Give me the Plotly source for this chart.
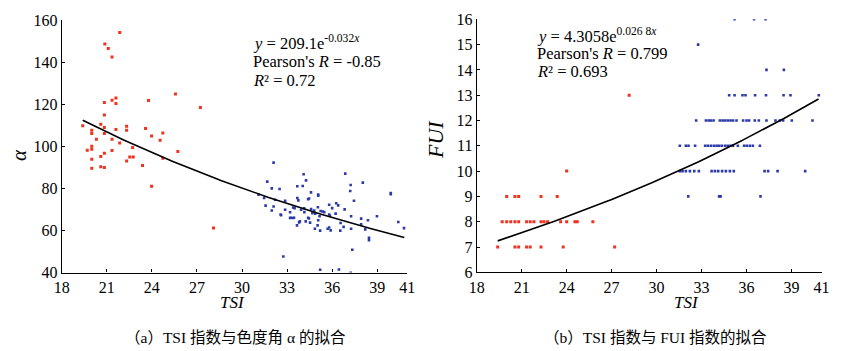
import numpy as np
import plotly.graph_objects as go

# ---------------- data: panel (a) TSI vs alpha ----------------
a_red_tsi = [21.86, 20.87, 21.1, 21.35, 25.57, 23.78, 21.61, 21.35, 21.61, 20.84, 27.23, 20.84,
             19.4, 20.6, 20.0, 20.0, 20.84, 20.84, 21.61, 22.32, 22.32, 23.58, 24.73, 23.98,
             24.55, 20.31, 21.35, 21.86, 20.0, 20.0, 19.7, 21.35, 20.84, 20.6, 22.72, 22.53,
             22.76, 22.32, 20.0, 25.73, 24.73, 23.38, 20.0, 20.6, 20.84, 23.98, 28.1]
a_red_alpha = [154.1, 148.6, 146.5, 142.4, 124.8, 121.8, 122.9, 121.9, 120.3, 120.8, 118.4, 114.8,
               109.7, 110.5, 107.6, 106.0, 108.9, 106.0, 108.0, 109.5, 107.6, 108.4, 106.3, 104.9,
               102.9, 103.3, 103.3, 101.6, 100.0, 98.6, 98.1, 98.0, 96.7, 95.1, 99.4, 94.9,
               94.9, 93.0, 93.8, 97.5, 94.3, 90.8, 89.5, 90.2, 89.9, 81.0, 61.1]

a_blue_tsi = [32.1, 31.68, 31.98, 32.5, 34.1, 34.26, 34.04, 33.68, 36.87, 37.23, 37.2, 38.04,
              34.59, 35.07, 35.07, 34.46, 34.4, 33.68, 33.75, 32.87, 32.2, 31.47, 31.1, 37.45,
              39.9, 39.9, 31.57, 32.1, 31.98, 32.57, 32.6, 33.4, 33.5, 33.2, 33.2, 33.4,
              38.98, 38.38, 40.4, 40.78, 37.93, 37.93, 38.2, 37.26, 37.26, 36.83, 36.76, 36.56,
              36.54, 36.27, 36.4, 36.23, 36.0, 35.8, 35.8, 35.85, 35.8, 35.7, 35.9, 35.36,
              35.47, 35.23, 35.16, 35.07, 35.05, 34.87, 34.8, 34.6, 34.68, 34.85, 35.2, 35.03,
              34.53, 34.24, 34.4, 34.45, 34.15, 34.13, 33.93, 33.8, 33.85, 33.66, 33.46, 33.24,
              32.87, 32.75, 35.2, 36.45, 37.23, 37.34, 38.45, 38.45]
a_blue_alpha = [92.2, 83.2, 80.0, 79.7, 86.7, 83.8, 81.1, 81.0, 87.0, 81.6, 78.7, 82.7,
                78.1, 77.1, 76.5, 75.2, 74.8, 75.4, 74.3, 74.1, 74.6, 75.4, 77.0, 74.1,
                77.8, 77.2, 71.8, 71.4, 69.5, 67.6, 67.2, 70.9, 70.6, 68.6, 65.9, 65.9,
                66.7, 64.8, 64.0, 61.1, 65.6, 62.9, 60.5, 66.7, 60.8, 70.0, 61.7, 63.5,
                59.9, 72.9, 71.9, 68.0, 70.6, 72.2, 67.6, 67.0, 61.4, 60.8, 60.0, 69.0,
                68.7, 69.2, 66.7, 64.8, 71.0, 68.0, 69.5, 70.2, 68.2, 60.8, 59.9, 62.4,
                63.7, 64.3, 66.0, 65.7, 68.7, 70.5, 69.8, 63.8, 64.3, 62.4, 66.0, 66.0,
                69.8, 47.6, 41.3, 41.4, 39.9, 50.8, 56.5, 55.4]

# fit (a): y = 209.1 e^(-0.032x)
a_fit_coef = 209.1
a_fit_rate = -0.032

# ---------------- data: panel (b) TSI vs FUI ----------------
b_red_tsi = [19.4, 20.55, 20.8, 21.33, 21.57, 22.29, 23.77, 27.2,
             19.7, 20.0, 20.27, 20.55, 20.8, 21.33, 21.57, 21.82, 22.29, 22.49, 22.73, 23.6,
             24.0, 24.55, 24.71, 25.75,
             20.0, 20.55, 20.8, 22.29, 23.37,
             24.0, 28.17]
b_red_fui = [7, 7, 7, 7, 7, 7, 7, 7,
             8, 8, 8, 8, 8, 8, 8, 8, 8, 8, 8, 8,
             8, 8, 8, 8,
             9, 9, 9, 9, 9,
             10, 13]

b_blue_tsi = [35.2, 36.5, 37.27,
              32.77,
              37.33, 38.49,
              34.84, 35.2, 35.73, 35.93, 36.57, 37.3, 38.47, 38.93, 40.82,
              32.64, 33.29, 33.47, 33.62, 33.8, 34.22, 34.4, 34.57, 34.75, 34.93, 35.1, 35.33,
              35.77, 36.0, 36.17, 36.55, 36.82, 37.33, 37.93, 38.22, 38.44, 39.02, 40.4,
              31.55, 31.95, 32.13, 32.57, 33.24, 33.42, 33.62, 33.82, 34.0, 34.17, 34.35, 34.57,
              34.75, 34.93, 35.1, 35.42, 35.84, 36.02, 36.22, 36.42, 36.89,
              31.55, 31.73, 31.95, 32.22, 32.51, 32.82, 33.67, 33.89, 34.11, 34.37, 34.62, 34.89,
              35.15, 37.2, 37.44, 38.07, 39.91,
              32.11, 34.17, 34.27, 36.93]
b_blue_fui = [16, 16, 16,
              15,
              14, 14,
              13, 13, 13, 13, 13, 13, 13, 13, 13,
              12, 12, 12, 12, 12, 12, 12, 12, 12, 12, 12, 12,
              12, 12, 12, 12, 12, 12, 12, 12, 12, 12, 12,
              11, 11, 11, 11, 11, 11, 11, 11, 11, 11, 11, 11,
              11, 11, 11, 11, 11, 11, 11, 11, 11,
              10, 10, 10, 10, 10, 10, 10, 10, 10, 10, 10, 10,
              10, 10, 10, 10, 10,
              9, 9, 9, 9]

# fit (b): y = 4.3058 e^(0.0268x)
b_fit_coef = 4.3058
b_fit_rate = 0.0268

fit_range = [19.4, 40.8]
x_ticks = [18, 21, 24, 27, 30, 33, 36, 39, 41]
a_y_ticks = [40, 60, 80, 100, 120, 140, 160]
b_y_ticks = [6, 7, 8, 9, 10, 11, 12, 13, 14, 15, 16]

# ---------------- figure ----------------
W, H = 841, 351
RED = "#f0321e"
BLUE = "#2b3aa8"
SERIF = '"Liberation Serif", "Times New Roman", serif'
CAP = '"Liberation Serif", "Noto Sans CJK SC", serif'

fx = np.linspace(fit_range[0], fit_range[1], 200)

fig = go.Figure()
mk_r = dict(symbol="square", size=3, line=dict(width=0))
mk_b = dict(symbol="square", size=2.6, line=dict(width=0))
fig.add_trace(go.Scatter(x=a_red_tsi, y=a_red_alpha, mode="markers", marker=dict(color=RED, **mk_r),
                         xaxis="x", yaxis="y", showlegend=False))
fig.add_trace(go.Scatter(x=a_blue_tsi, y=a_blue_alpha, mode="markers", marker=dict(color=BLUE, **mk_b),
                         xaxis="x", yaxis="y", showlegend=False))
fig.add_trace(go.Scatter(x=fx, y=a_fit_coef * np.exp(a_fit_rate * fx), mode="lines",
                         line=dict(color="black", width=1.6), xaxis="x", yaxis="y", showlegend=False))
fig.add_trace(go.Scatter(x=b_red_tsi, y=b_red_fui, mode="markers", marker=dict(color=RED, **mk_r),
                         xaxis="x2", yaxis="y2", showlegend=False))
fig.add_trace(go.Scatter(x=b_blue_tsi, y=b_blue_fui, mode="markers", marker=dict(color=BLUE, **mk_b),
                         xaxis="x2", yaxis="y2", showlegend=False))
fig.add_trace(go.Scatter(x=fx, y=b_fit_coef * np.exp(b_fit_rate * fx), mode="lines",
                         line=dict(color="black", width=1.6), xaxis="x2", yaxis="y2", showlegend=False))


def px(x):
    return x / W


def py(y):
    return 1 - y / H


axis_common = dict(showgrid=False, zeroline=False, showline=True, linecolor="black", linewidth=1.2,
                   ticks="inside", ticklen=3, tickcolor="black", tickwidth=1, automargin=False,
                   tickfont=dict(family=SERIF, size=16, color="black"), mirror=False)

fig.update_layout(
    template="none",
    width=W, height=H, margin=dict(l=0, r=0, t=0, b=0, autoexpand=False),
    font=dict(family=SERIF, color="black"),
    paper_bgcolor="white", plot_bgcolor="white",
    xaxis=dict(domain=[px(61.7), px(407.3)], range=[18, 41], tickvals=x_ticks, anchor="y", **axis_common),
    yaxis=dict(domain=[py(272.5), py(20)], range=[40, 160], tickvals=a_y_ticks, anchor="x", **axis_common),
    xaxis2=dict(domain=[px(476.7), px(821.5)], range=[18, 41], tickvals=x_ticks, anchor="y2", **axis_common),
    yaxis2=dict(domain=[py(272.3), py(19.3)], range=[6, 16], tickvals=b_y_ticks, anchor="x2", **axis_common),
)

ann = []
tfont = dict(family=SERIF, size=16.5, color="black")
# panel (a) equation
ann.append(dict(x=px(251), y=py(42), text="<i>y</i> = 209.1e<sup>-0.032<i>x</i></sup>",
                xanchor="left", font=tfont))
ann.append(dict(x=px(251), y=py(61), text="Pearson's <i>R</i> = -0.85",
                xanchor="left", font=tfont))
ann.append(dict(x=px(251), y=py(80), text="<i>R</i>² = 0.72",
                xanchor="left", font=tfont))
# panel (b) equation
ann.append(dict(x=px(535), y=py(35), text="<i>y</i> = 4.3058e<sup>0.026 8<i>x</i></sup>",
                xanchor="left", font=tfont))
ann.append(dict(x=px(535), y=py(53), text="Pearson's <i>R</i> = 0.799",
                xanchor="left", font=tfont))
ann.append(dict(x=px(535), y=py(72), text="<i>R</i>² = 0.693",
                xanchor="left", font=tfont))
# axis titles
ann.append(dict(x=px(19), y=py(155), text="<i>α</i>", textangle=-90, xanchor="center",
                font=dict(family=SERIF, size=21, color="black")))
ann.append(dict(x=px(435), y=py(140), text="<i>FUI</i>", textangle=-90, xanchor="center",
                font=dict(family=SERIF, size=22, color="black")))
ann.append(dict(x=px(232), y=py(302), text="<i>TSI</i>", xanchor="center",
                font=dict(family=SERIF, size=17, color="black")))
ann.append(dict(x=px(686), y=py(302), text="<i>TSI</i>", xanchor="center",
                font=dict(family=SERIF, size=17, color="black")))
# captions
ann.append(dict(x=px(235), y=py(337), text="（a）TSI 指数与色度角 α 的拟合", xanchor="center",
                font=dict(family=CAP, size=15.5, color="black")))
ann.append(dict(x=px(655), y=py(337), text="（b）TSI 指数与 FUI 指数的拟合", xanchor="center",
                font=dict(family=CAP, size=15.5, color="black")))
for a in ann:
    a["xref"] = "paper"
    a["yref"] = "paper"
    a["showarrow"] = False
    a["yanchor"] = "middle"
fig.update_layout(annotations=ann)

fig.write_html("out.html")
